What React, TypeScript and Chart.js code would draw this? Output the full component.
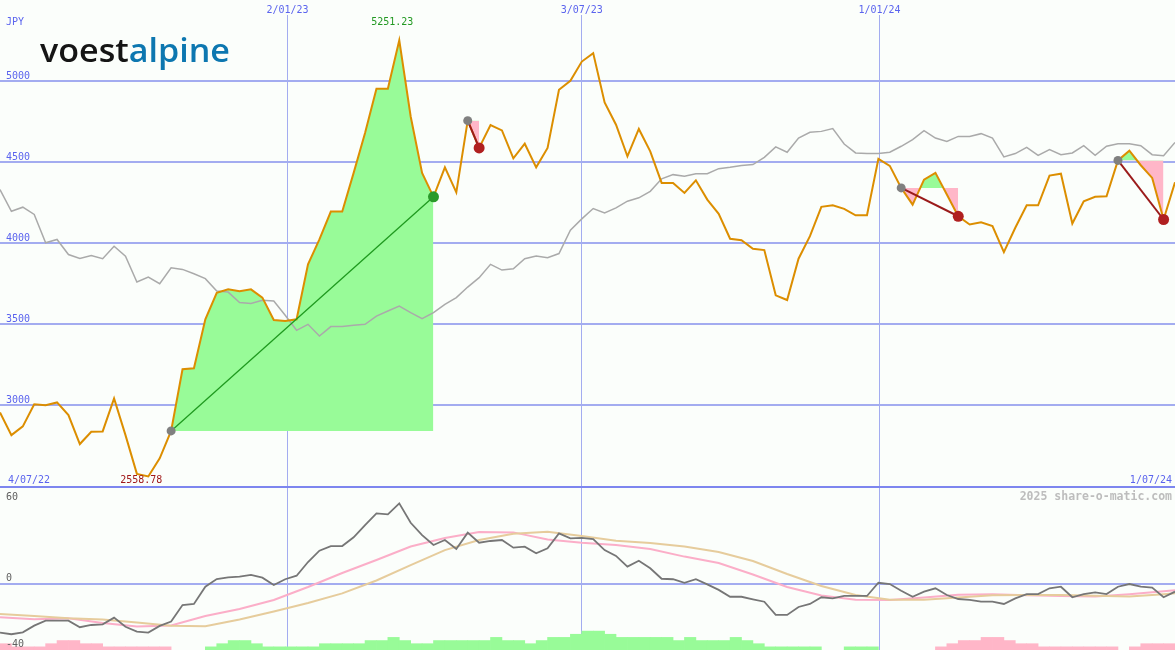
import React, { useEffect, useRef } from 'react';
import { Chart, registerables } from 'chart.js';

Chart.register(...registerables);

// ---------- data (weekly samples, index 0 = 4/07/22, index 103 = 1/07/24) ----------
const CURRENCY = 'JPY';
const PRICE_TICKS = [3000, 3500, 4000, 4500, 5000];
const DATE_POS = [25.2, 51, 77.1];
const DATE_LABELS = ['2/01/23', '3/07/23', '1/01/24'];
const RANGE_LABELS = ['4/07/22', '1/07/24'];

const PRICE = [
  2954, 2814, 2868, 3005, 2999, 3016, 2938, 2759, 2835, 2837,
  3040, 2814, 2575, 2558.78, 2671, 2840, 3221, 3227, 3529, 3693,
  3714, 3703, 3714, 3663, 3525, 3518, 3529, 3868, 4022, 4194,
  4194, 4433, 4679, 4952, 4952, 5251.23, 4781, 4433, 4285, 4467,
  4313, 4755, 4587, 4728, 4695, 4523, 4613, 4467, 4587, 4946,
  5001, 5120, 5172, 4868, 4730, 4535, 4704, 4566, 4371, 4371,
  4309, 4387, 4268, 4180, 4026, 4017, 3964, 3956, 3677, 3648,
  3903, 4042, 4223, 4233, 4211, 4171, 4171, 4519, 4476, 4340,
  4237, 4391, 4433, 4299, 4165, 4114, 4128, 4104, 3944, 4094,
  4233, 4233, 4416, 4428, 4120, 4258, 4285, 4288, 4510, 4570,
  4480, 4402, 4145, 4375,
];

const BENCH = [
  4330, 4196, 4221, 4176, 4001, 4022, 3929, 3905, 3923, 3903,
  3980, 3919, 3759, 3790, 3749, 3847, 3837, 3810, 3780, 3703,
  3697, 3632, 3626, 3646, 3642, 3554, 3461, 3498, 3426, 3484,
  3484, 3492, 3498, 3549, 3580, 3611, 3570, 3533, 3570, 3621,
  3663, 3728, 3786, 3868, 3833, 3841, 3903, 3919, 3909, 3935,
  4079, 4149, 4213, 4186, 4217, 4258, 4279, 4319, 4396, 4422,
  4412, 4428, 4428, 4459, 4467, 4478, 4484, 4529, 4593, 4560,
  4648, 4683, 4689, 4706, 4611, 4556, 4552, 4552, 4560, 4597,
  4638, 4693, 4648, 4627, 4658, 4658, 4675, 4648, 4531, 4552,
  4590, 4541, 4576, 4545, 4556, 4601, 4541, 4597, 4613, 4613,
  4601, 4545, 4539, 4621,
];

const TRADE_START = [15, 41, 79, 98];
const TRADE_END = [38, 42, 84, 102];

const OSC_LABELS = [60, 0, -40];
const OSC_TICKS = [0];

const OSC = [
  -30.7, -31.7, -30.5, -26.3, -23.2, -23.2, -23.2, -27.3, -25.9, -25.5,
  -21.3, -27, -30.1, -30.7, -26.5, -23.8, -13.4, -12.7, -1.9, 2.9,
  4, 4.4, 5.5, 3.8, -0.8, 2.8, 5, 13.6, 20.7, 23.6,
  23.6, 29.1, 36.8, 44.1, 43.5, 50.4, 38.2, 30.5, 24.3, 27.4,
  21.8, 32, 25.7, 26.8, 27.4, 22.6, 23.2, 19.1, 22.2, 31.6,
  28.5, 28.8, 28, 21.1, 17.4, 10.7, 14.4, 9.7, 3.1, 2.8,
  0.6, 2.8, -0.4, -3.9, -8.2, -8.2, -9.8, -11.3, -19.6, -19.6,
  -14.6, -12.7, -8.5, -9.2, -7.7, -7.7, -7.7, 0.6, -0.2, -4.4,
  -8.2, -5, -2.9, -7.1, -9.6, -10.2, -11.3, -11.3, -12.7, -9.2,
  -6.6, -6.5, -2.9, -1.9, -8.5, -6.6, -5.4, -6.5, -1.9, -0.2,
  -1.9, -2.5, -8.5, -5,
];

const MA_X = [0, 3, 6, 9, 12, 15, 18, 21, 24, 27, 30, 33, 36, 39, 42, 45, 48, 51,
  54, 57, 60, 63, 66, 69, 72, 75, 78, 81, 84, 87, 90, 93, 96, 99, 102, 103];
const MA_FAST = [-21.1, -22.3, -21.7, -24.6, -26.8, -26.2, -20.3, -15.9, -10.2, -2.1,
  6.7, 14.9, 23.3, 28.7, 32.4, 32.2, 27.7, 25.7, 24.3, 21.8, 17, 13, 5.8, -2.1,
  -7.4, -10, -10.2, -8.6, -6.9, -6.6, -7.3, -7.7, -8.1, -6.6, -4.8, -4.1];
const MA_SLOW = [-19, -20.3, -21.7, -22.4, -24.3, -26.4, -26.7, -22.4, -17.4, -12.1,
  -6.1, 2, 11.7, 21.1, 27.4, 31.4, 32.6, 29.9, 26.9, 25.5, 23.3, 19.9, 14.2, 6.1,
  -1.4, -7.1, -10.1, -10, -8.6, -7.3, -7.1, -7.1, -7.6, -8.1, -6.6, -6];

const HIST = [
  -2, -1, -1, -1, -2, -3, -3, -2, -2, -1,
  -1, -1, -1, -1, -1, 0, 0, 0, 1, 2,
  3, 3, 2, 1, 1, 1, 1, 1, 2, 2,
  2, 2, 3, 3, 4, 3, 2, 2, 3, 3,
  3, 3, 3, 4, 3, 3, 2, 3, 4, 4,
  5, 6, 6, 5, 4, 4, 4, 4, 4, 3,
  4, 3, 3, 3, 4, 3, 2, 1, 1, 1,
  1, 1, 0, 0, 1, 1, 1, 0, 0, 0,
  0, 0, -1, -2, -3, -3, -4, -4, -3, -2,
  -2, -1, -1, -1, -1, -1, -1, -1, 0, -1,
  -2, -2, -2,
];

// ---------- styles ----------
const BG = '#fbfefb';
const GRID = '#a3acf0';
const AXIS_TEXT = '#5b64ee';
const SEP = '#7d86ef';
const MONO = '"DejaVu Sans Mono", monospace';
const ORANGE = '#dc8e00';
const GREY_LINE = '#aaaaaa';
const FILL_UP = '#98fb98';
const FILL_DOWN = '#ffb6c8';
const WIN_LINE = '#1f9a1f';
const LOSS_LINE = '#9b1b1b';
const DOT_START = '#808080';
const DOT_WIN = '#2a9a2a';
const DOT_LOSS = '#b02020';

const W = 1175;
const H_TOP = 486;
const H_BOT = 164;

export default function App() {
  const topRef = useRef<HTMLCanvasElement>(null);
  const botRef = useRef<HTMLCanvasElement>(null);

  useEffect(() => {
    const pts = (arr: number[]) => arr.map((v, i) => ({ x: i, y: v }));
    const priceData = pts(PRICE);

    const tradeFills: any[] = [];
    const tradeLines: any[] = [];
    TRADE_START.forEach((s, k) => {
      const e = TRADE_END[k];
      const win = PRICE[e] > PRICE[s];
      tradeFills.push({
        type: 'line',
        data: priceData.slice(s, e + 1),
        borderWidth: 0,
        pointRadius: 0,
        fill: { target: { value: PRICE[s] }, above: FILL_UP, below: FILL_DOWN },
        order: 5,
      });
      tradeLines.push({
        type: 'line',
        data: [{ x: s, y: PRICE[s] }, { x: e, y: PRICE[e] }],
        borderColor: win ? WIN_LINE : LOSS_LINE,
        borderWidth: win ? 1.3 : 2,
        pointRadius: [4.5, 5.5],
        pointHoverRadius: 0,
        pointBorderWidth: 0,
        pointBackgroundColor: [DOT_START, win ? DOT_WIN : DOT_LOSS],
        fill: false,
        order: 1,
      });
    });

    const topPlugin = {
      id: 'topText',
      afterDraw(chart: any) {
        const { ctx, chartArea } = chart;
        const x = chart.scales.x;
        const y = chart.scales.y;
        ctx.save();
        // logo
        ctx.font = '600 33px "Open Sans", sans-serif';
        ctx.textAlign = 'left';
        ctx.textBaseline = 'alphabetic';
        const w1 = ctx.measureText('voest').width;
        const w2 = ctx.measureText('alpine').width;
        ctx.save();
        ctx.translate(40, 62);
        ctx.scale(190 / (w1 + w2), 1);
        ctx.fillStyle = '#151515';
        ctx.fillText('voest', 0, 0);
        ctx.fillStyle = '#0d77b0';
        ctx.fillText('alpine', w1, 0);
        ctx.restore();

        ctx.font = `10px ${MONO}`;
        ctx.fillStyle = AXIS_TEXT;
        PRICE_TICKS.forEach((v) => ctx.fillText(String(v), 6, y.getPixelForValue(v) - 2.5));
        ctx.fillText(CURRENCY, 6, 25);

        ctx.textAlign = 'center';
        DATE_POS.forEach((p, i) => {
          const px = x.getPixelForValue(p);
          const w = ctx.measureText(DATE_LABELS[i]).width;
          ctx.fillStyle = BG;
          ctx.fillRect(px - w / 2 - 2, 0, w + 4, 15);
          ctx.fillStyle = AXIS_TEXT;
          ctx.fillText(DATE_LABELS[i], px, 12.5);
        });

        ctx.textAlign = 'left';
        ctx.fillText(RANGE_LABELS[0], 8, chartArea.bottom - 3.5);
        ctx.textAlign = 'right';
        ctx.fillText(RANGE_LABELS[1], chartArea.right - 3, chartArea.bottom - 3.5);

        // max / min annotations
        let iMax = 0, iMin = 0;
        PRICE.forEach((v, i) => {
          if (v > PRICE[iMax]) iMax = i;
          if (v < PRICE[iMin]) iMin = i;
        });
        ctx.textAlign = 'center';
        ctx.fillStyle = '#229922';
        ctx.fillText(PRICE[iMax].toFixed(2), x.getPixelForValue(iMax) - 7, y.getPixelForValue(PRICE[iMax]) - 15.5);
        ctx.fillStyle = '#a01818';
        ctx.fillText(PRICE[iMin].toFixed(2), x.getPixelForValue(iMin) - 7,
          Math.min(y.getPixelForValue(PRICE[iMin]) + 10, chartArea.bottom - 3.5));
        ctx.restore();
      },
    };

    const c1 = new Chart(topRef.current as HTMLCanvasElement, {
      type: 'line',
      data: {
        datasets: [
          ...tradeLines,
          {
            type: 'line',
            data: priceData,
            borderColor: ORANGE,
            borderWidth: 2,
            pointRadius: 0,
            fill: false,
            order: 2,
          },
          {
            type: 'line',
            data: pts(BENCH),
            borderColor: GREY_LINE,
            borderWidth: 1.5,
            pointRadius: 0,
            fill: false,
            order: 3,
          },
          ...tradeFills,
        ],
      } as any,
      options: {
        animation: false,
        responsive: false,
        maintainAspectRatio: false,
        devicePixelRatio: 1,
        layout: { padding: 0, autoPadding: false },
        elements: { line: { tension: 0 } },
        plugins: { legend: { display: false }, tooltip: { enabled: false } },
        scales: {
          x: {
            type: 'linear',
            min: 0,
            max: PRICE.length - 1,
            offset: false,
            grid: { color: GRID, lineWidth: 1, drawTicks: false },
            border: { display: false },
            ticks: { display: false },
            afterBuildTicks: (s: any) => { s.ticks = DATE_POS.map((v) => ({ value: v })); },
          },
          y: {
            type: 'linear',
            min: 2500,
            max: 5500,
            grid: { color: GRID, lineWidth: 2, drawTicks: false },
            border: { display: false },
            ticks: { display: false },
            afterBuildTicks: (s: any) => { s.ticks = PRICE_TICKS.map((v) => ({ value: v })); },
          },
        },
      } as any,
      plugins: [topPlugin],
    });

    const botPlugin = {
      id: 'botText',
      afterDraw(chart: any) {
        const { ctx, chartArea } = chart;
        const y = chart.scales.y;
        ctx.save();
        ctx.fillStyle = SEP;
        ctx.fillRect(0, 0, chart.width, 2);
        ctx.font = `10px ${MONO}`;
        ctx.fillStyle = '#606060';
        ctx.textAlign = 'left';
        ctx.textBaseline = 'alphabetic';
        OSC_LABELS.forEach((v, i) => {
          let by = y.getPixelForValue(v) - 2.7;
          if (i === 0) by = chartArea.top + 14;
          if (i === OSC_LABELS.length - 1) by = chartArea.bottom - 3.3;
          ctx.fillText(String(v), 6, by);
        });
        ctx.font = `bold 11.5px ${MONO}`;
        ctx.fillStyle = '#bdbdbd';
        ctx.textAlign = 'right';
        ctx.fillText('2025 share-o-matic.com', chartArea.right - 3, chartArea.top + 14);
        ctx.restore();
      },
    };

    const c2 = new Chart(botRef.current as HTMLCanvasElement, {
      type: 'line',
      data: {
        datasets: [
          {
            type: 'line',
            data: pts(OSC),
            borderColor: '#767676',
            borderWidth: 1.8,
            pointRadius: 0,
            fill: false,
            order: 1,
          },
          {
            type: 'line',
            data: MA_X.map((xv, i) => ({ x: xv, y: MA_SLOW[i] })),
            borderColor: '#e6cc9c',
            borderWidth: 2,
            pointRadius: 0,
            fill: false,
            order: 2,
          },
          {
            type: 'line',
            data: MA_X.map((xv, i) => ({ x: xv, y: MA_FAST[i] })),
            borderColor: '#fbaec8',
            borderWidth: 2,
            pointRadius: 0,
            fill: false,
            order: 3,
          },
          {
            type: 'bar',
            data: HIST.map((v, i) => ({ x: i + 0.5, y: v === 0 ? null : Math.abs(v) })),
            backgroundColor: HIST.map((v) => (v >= 0 ? FILL_UP : FILL_DOWN)),
            borderWidth: 0,
            barPercentage: 1,
            categoryPercentage: 1,
            yAxisID: 'yh',
            order: 6,
          },
        ],
      } as any,
      options: {
        animation: false,
        responsive: false,
        maintainAspectRatio: false,
        devicePixelRatio: 1,
        layout: { padding: 0, autoPadding: false },
        elements: { line: { tension: 0 } },
        plugins: { legend: { display: false }, tooltip: { enabled: false } },
        scales: {
          x: {
            type: 'linear',
            min: 0,
            max: PRICE.length - 1,
            offset: false,
            grid: { color: GRID, lineWidth: 1, drawTicks: false, offset: false },
            border: { display: false },
            ticks: { display: false },
            afterBuildTicks: (s: any) => { s.ticks = DATE_POS.map((v) => ({ value: v })); },
          },
          y: {
            type: 'linear',
            min: -41.6,
            max: 61.3,
            grid: { color: GRID, lineWidth: 2, drawTicks: false },
            border: { display: false },
            ticks: { display: false },
            afterBuildTicks: (s: any) => { s.ticks = OSC_TICKS.map((v) => ({ value: v })); },
          },
          yh: {
            type: 'linear',
            min: 0,
            max: H_BOT / 3.15,
            display: false,
          },
        },
      } as any,
      plugins: [botPlugin],
    });

    return () => {
      c1.destroy();
      c2.destroy();
    };
  }, []);

  return (
    <div
      style={{
        position: 'absolute',
        left: 0,
        top: 0,
        width: W,
        height: H_TOP + H_BOT,
        background: BG,
        overflow: 'hidden',
      }}
    >
      <canvas ref={topRef} width={W} height={H_TOP} style={{ display: 'block' }} />
      <canvas ref={botRef} width={W} height={H_BOT} style={{ display: 'block' }} />
    </div>
  );
}
